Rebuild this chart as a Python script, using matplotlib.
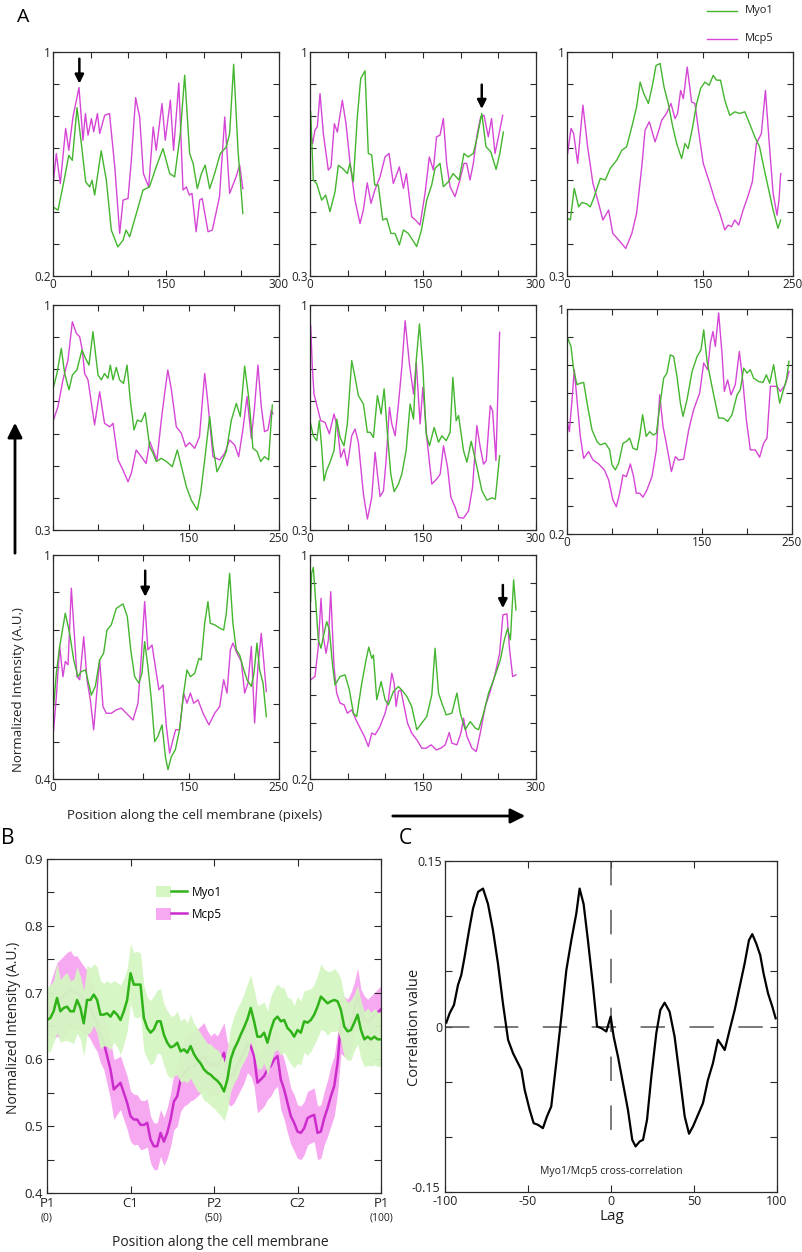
import numpy as np
import matplotlib
matplotlib.use('Agg')
import matplotlib.pyplot as plt
from matplotlib.lines import Line2D
from matplotlib.patches import Patch, FancyArrowPatch
from matplotlib.legend_handler import HandlerTuple
from matplotlib.transforms import ScaledTranslation

plt.rcParams['font.family'] = ['Open Sans', 'DejaVu Sans']

# ---------------- Panel A data: (position in pixels, normalized intensity) ----------------
p1_myo = [(0,0.447),(6.6,0.435),(13,0.518),(21,0.631),(25.6,0.613),(31.9,0.801),(37.6,0.673),(43.4,0.536),
          (48.7,0.518),(51.8,0.542),(55.3,0.489),(64,0.647),(70.8,0.542),(77.4,0.364),(86,0.304),(93,0.328),
          (97,0.364),(101.8,0.340),(110.6,0.423),(119.5,0.507),(128,0.518),(137,0.590),(146,0.655),(154.9,0.566),
          (161.5,0.554),(169,0.709),(174.8,0.917),(181.4,0.637),(186,0.602),(191.6,0.512),(197,0.566),(202,0.596),
          (208,0.512),(214.6,0.566),(222,0.637),(230,0.661),(234.5,0.709),(239.8,0.956),(245.6,0.649),(252,0.423)]
p1_mcp = [(0,0.524),(4.4,0.637),(9.7,0.530),(16.8,0.727),(21,0.649),(26.5,0.768),(34.5,0.873),(39.8,0.685),
          (43,0.78),(46.5,0.703),(51,0.762),(54,0.715),(59,0.78),(62,0.709),(68.6,0.774),(75,0.78),(82,0.59),
          (88.5,0.352),(93,0.471),(99.6,0.477),(104,0.614),(109.7,0.837),(115,0.768),(120,0.566),(127,0.518),
          (133,0.732),(137,0.649),(144.7,0.816),(149,0.685),(155.8,0.828),(160,0.649),(167,0.889),(172.6,0.507),
          (177,0.518),(181,0.489),(184.5,0.495),(190,0.358),(194.7,0.471),(198,0.477),(205.8,0.358),(211.5,0.364),
          (221,0.483),(228,0.768),(234.5,0.495),(243,0.554),(247.8,0.596),(252,0.512)]

p2_myo = [(0.9,0.813),(4.4,0.600),(8.8,0.589),(15.5,0.537),(20.8,0.553),(26.5,0.501),(33.2,0.563),(37.6,0.646),
          (43.4,0.636),(49.6,0.620),(53,0.652),(57.5,0.594),(62.8,0.797),(67.3,0.917),(73,0.941),(77.4,0.683),
          (81.9,0.678),(86,0.584),(90.7,0.584),(96.5,0.475),(101.8,0.480),(107.5,0.433),(112.8,0.433),(118.6,0.397),
          (124,0.444),(130.5,0.433),(136.3,0.412),(141.6,0.392),(148,0.444),(154.9,0.537),(161.5,0.584),(166,0.636),
          (172.6,0.652),(177,0.579),(183.6,0.594),(190,0.620),(197.8,0.600),(204.4,0.683),(210,0.672),(216.8,0.683),
          (222,0.735),(228,0.808),(233.6,0.704),(240,0.688),(247,0.633),(252,0.683),(256.7,0.750)]
p2_mcp = [(0.9,0.745),(3.5,0.714),(6.6,0.756),(9.7,0.766),(13.3,0.870),(17.7,0.745),(24.3,0.631),(27.9,0.641),
          (32.3,0.776),(36.3,0.750),(42.9,0.849),(47.8,0.776),(53,0.657),(59.7,0.537),(66.4,0.464),(70.8,0.506),
          (76,0.591),(81,0.527),(86,0.568),(93,0.610),(99.6,0.672),(104.9,0.683),(110.6,0.589),(118.6,0.641),
          (124,0.574),(128,0.620),(135,0.485),(140,0.475),(146,0.459),(152.7,0.558),(158.4,0.672),(163.7,0.631),
          (168,0.735),(172.6,0.740),(177,0.792),(181.4,0.652),(185.9,0.579),(192.5,0.548),(199,0.600),(204.4,0.652),
          (208,0.652),(212.4,0.600),(216.8,0.652),(222,0.745),(226.6,0.797),(231,0.802),(236.7,0.735),(241,0.792),
          (245.6,0.683),(251,0.745),(255.8,0.802)]

p3_myo = [(0.7,0.480),(3.7,0.475),(8,0.574),(12.9,0.516),(16.5,0.530),(22,0.525),(25.7,0.516),(29.4,0.542),
          (36.8,0.605),(42.3,0.600),(47.8,0.636),(55,0.662),(60.7,0.693),(66,0.704),(71.7,0.766),(77,0.828),
          (80.9,0.906),(85,0.870),(90,0.839),(94.5,0.896),(98.5,0.958),(103,0.964),(107.3,0.891),(112,0.839),
          (117,0.766),(121.3,0.714),(126.8,0.667),(130.5,0.714),(134,0.698),(139,0.766),(143.4,0.839),(147.8,0.886),
          (152.5,0.906),(157.3,0.896),(161.7,0.927),(165.4,0.912),(169.8,0.912),(174.6,0.849),(180,0.802),
          (185.6,0.813),(191,0.808),(196.7,0.813),(202,0.776),(207.7,0.735),(213,0.704),(217.6,0.641),(222.4,0.579),
          (228,0.506),(233.4,0.449),(236.4,0.475)]
p3_mcp = [(0.7,0.683),(4.4,0.761),(7.4,0.745),(11.8,0.652),(17.6,0.834),(22.8,0.704),(28.7,0.589),(34,0.537),
          (39.7,0.475),(46,0.506),(50.7,0.433),(58.8,0.407),(65,0.386),(71.7,0.433),(77,0.496),(82.7,0.641),
          (86.4,0.756),(91,0.782),(93.7,0.756),(97.4,0.719),(101,0.750),(104.8,0.787),(110,0.808),(115,0.839),
          (119.5,0.792),(122.4,0.808),(125.7,0.880),(128.7,0.854),(133,0.953),(137.8,0.844),(141.5,0.839),
          (147,0.724),(150.7,0.652),(158,0.589),(163.6,0.537),(169,0.496),(174.6,0.444),(178.3,0.459),(182,0.454),
          (185.6,0.475),(190,0.459),(194.8,0.506),(200,0.548),(205,0.594),(209.5,0.714),(215,0.745),(219.5,0.880),
          (223.5,0.724),(228,0.558),(232.3,0.490),(234.5,0.537),(236.4,0.620)]

p4_myo = [(0.7,0.746),(4.4,0.787),(9.2,0.865),(12.9,0.787),(17.7,0.736),(21.4,0.782),(26.5,0.798),(32,0.860),
          (36,0.834),(39.8,0.813),(44.2,0.917),(49.8,0.782),(53.5,0.767),(57,0.787),(60.8,0.772),(63.4,0.813),
          (66.4,0.767),(70,0.806),(73.7,0.767),(78,0.756),(81.9,0.813),(85.5,0.704),(89.6,0.611),(93.3,0.642),
          (97.7,0.637),(102,0.665),(107,0.559),(110.6,0.539),(114.3,0.513),(119.8,0.523),(125.4,0.513),(132,0.497),
          (137.5,0.549),(143,0.487),(147.5,0.435),(153,0.393),(159.6,0.362),(163.3,0.414),(167.8,0.518),
          (173.3,0.653),(177,0.559),(181.4,0.481),(186,0.507),(191.7,0.544),(197.3,0.642),(202.8,0.694),
          (207.2,0.653),(212,0.810),(216.8,0.704),(221.2,0.554),(225.8,0.544),(229.7,0.513),(234,0.528),
          (238.5,0.518),(242.6,0.689)]
p4_mcp = [(0.7,0.644),(5.5,0.684),(11,0.767),(16.6,0.829),(21.4,0.948),(25.8,0.912),(29.5,0.901),(32.4,0.860),
          (35,0.787),(38.7,0.767),(46,0.627),(51.6,0.730),(57,0.632),(62.7,0.621),(66.4,0.632),(72,0.518),
          (77.4,0.487),(83,0.450),(86.6,0.476),(92,0.549),(97.7,0.528),(103,0.507),(107,0.575),(110.6,0.549),
          (115,0.518),(119.8,0.642),(123.5,0.725),(127,0.798),(131,0.736),(136.4,0.621),(142,0.601),(146.7,0.559),
          (151,0.572),(156.7,0.554),(162,0.590),(167.8,0.787),(171.4,0.694),(177,0.528),(184.4,0.518),(190,0.539),
          (195.4,0.580),(201,0.564),(205.4,0.528),(210,0.611),(214.6,0.715),(219.4,0.585),(223,0.684),(226.7,0.813),
          (230.4,0.684),(234,0.606),(237.8,0.611),(241.5,0.673),(243.3,0.661)]

p5_myo = [(0.9,0.630),(4.4,0.593),(8.9,0.578),(12.4,0.640),(15.5,0.557),(18.6,0.453),(22,0.485),(26.6,0.511),
          (31.9,0.547),(35.4,0.645),(39.9,0.588),(45.2,0.562),(49.6,0.630),(55.4,0.827),(59.8,0.775),(64.2,0.718),
          (70.9,0.692),(76.2,0.604),(79.8,0.604),(84.2,0.588),(89.5,0.718),(94.4,0.661),(98.4,0.739),(102.8,0.599),
          (107.2,0.474),(111.7,0.419),(117.4,0.443),(121.9,0.474),(127.6,0.547),(132.9,0.692),(137.4,0.645),
          (141,0.827),(145.3,0.941),(149.8,0.806),(154.2,0.599),(158.6,0.562),(164.8,0.619),(170.6,0.573),
          (175,0.593),(180.8,0.578),(186,0.604),(189.6,0.775),(194,0.640),(197.2,0.656),(203.8,0.547),(208.3,0.511),
          (214,0.576),(220.7,0.505),(228.2,0.422),(234.8,0.393),(241.5,0.400),(246,0.396),(251.7,0.531)]
p5_mcp = [(0.9,0.936),(3.1,0.806),(5.3,0.723),(9.7,0.682),(14.2,0.640),(20,0.635),(25.7,0.599),(31.9,0.661),
          (36.3,0.619),(40.8,0.526),(45.2,0.552),(49.6,0.500),(55.4,0.593),(59.8,0.614),(64.2,0.573),(70.9,0.412),
          (76.2,0.334),(82,0.402),(86.4,0.542),(89.5,0.474),(93,0.404),(97.5,0.422),(101,0.516),(105.5,0.682),
          (108.6,0.630),(113,0.593),(117.4,0.692),(121.9,0.806),(126.3,0.951),(132,0.816),(137.4,0.723),(141,0.822),
          (146.2,0.630),(149.8,0.744),(155,0.588),(161.7,0.443),(168.4,0.459),(172.8,0.474),(177.2,0.562),
          (182.6,0.495),(187,0.402),(192.7,0.371),(197.2,0.339),(203.8,0.337),(210.5,0.360),(215.8,0.433),
          (221.5,0.625),(226,0.557),(230.4,0.505),(234,0.516),(239.3,0.687),(242.4,0.671),(246.8,0.516),(251.7,0.915)]

p6_myo = [(0.7,0.897),(4.4,0.867),(7.4,0.784),(11.1,0.731),(14.8,0.736),(18.5,0.739),(23,0.653),(27.8,0.570),
          (33.3,0.529),(37,0.517),(42.6,0.523),(47.4,0.499),(50,0.446),(53.7,0.428),(57.4,0.452),(62.2,0.523),
          (66,0.529),(69.6,0.541),(73.3,0.505),(77.8,0.499),(80.7,0.547),(84,0.624),(88,0.547),(91.9,0.564),
          (95.6,0.552),(99.3,0.558),(103,0.653),(107.4,0.754),(111,0.772),(114.8,0.837),(118.5,0.831),(122.2,0.760),
          (126,0.665),(128.9,0.618),(133.3,0.677),(139,0.778),(144.5,0.831),(148.9,0.855),(151.9,0.926),
          (155.6,0.814),(160,0.742),(163.7,0.683),(168.5,0.612),(174,0.612),(178.5,0.600),(183.3,0.624),
          (189,0.695),(192.6,0.713),(196.3,0.790),(200,0.772),(203.7,0.784),(207.4,0.754),(213,0.742),
          (217.8,0.739),(221.5,0.766),(225.2,0.736),(229.6,0.802),(233.3,0.725),(236.3,0.665),(240,0.707),
          (243.7,0.748),(246.7,0.814)]
p6_mcp = [(0.7,0.594),(2.6,0.564),(5.6,0.677),(8.1,0.784),(11.1,0.677),(14.8,0.547),(18.5,0.469),(24,0.493),
          (28.9,0.463),(35.2,0.449),(41.5,0.428),(46.3,0.392),(51,0.321),(54.8,0.297),(58.5,0.345),(62.2,0.410),
          (66,0.404),(70.4,0.449),(74,0.404),(77,0.345),(80.7,0.345),(84.4,0.331),(88.9,0.357),(94.4,0.404),
          (99.3,0.499),(103,0.695),(106.7,0.582),(111,0.511),(116,0.422),(120.4,0.475),(124,0.463),(129.6,0.466),
          (135.2,0.570),(140.7,0.642),(147.4,0.701),(151.9,0.808),(156.3,0.784),(159.3,0.879),(162.2,0.920),
          (164.8,0.867),(168.5,0.986),(172.2,0.843),(174.8,0.707),(178.5,0.748),(182.2,0.695),(187,0.731),
          (191.5,0.849),(195.6,0.736),(199.3,0.606),(203.7,0.499),(209.3,0.499),(214,0.473),(218.5,0.523),
          (222.2,0.541),(226,0.725),(229.6,0.725),(233.3,0.725),(237,0.707),(242.6,0.731),(246.7,0.778)]

p7_myo = [(0.7,0.594),(3.7,0.683),(7.4,0.755),(13.6,0.844),(18.4,0.790),(22.9,0.719),(27.6,0.674),(31.3,0.688),
          (36,0.692),(42.4,0.625),(46.8,0.648),(51.6,0.719),(56,0.737),(59.7,0.799),(64.5,0.813),(70,0.857),
          (77.4,0.869),(82.2,0.835),(86,0.746),(90.3,0.674),(95,0.657),(98.4,0.683),(101.4,0.768),(105,0.701),
          (108.8,0.612),(112.5,0.500),(116,0.514),(120.6,0.545),(124.3,0.460),(127.2,0.425),(130.9,0.460),
          (135.3,0.478),(140,0.532),(144.5,0.630),(148.2,0.692),(152,0.674),(156.7,0.683),(161.5,0.723),
          (164,0.719),(167.8,0.817),(171.4,0.875),(174,0.817),(178.8,0.813),(184.4,0.804),(188.8,0.799),
          (191.7,0.844),(195.4,0.951),(199,0.817),(202.8,0.746),(206.5,0.732),(210,0.701),(214.6,0.666),
          (219.4,0.648),(222.3,0.683),(225.6,0.764),(228.6,0.692),(232.3,0.657),(236,0.567)]
p7_mcp = [(0.7,0.532),(3.7,0.621),(7.4,0.755),(11,0.674),(13.6,0.715),(16.6,0.706),(20.3,0.911),(24,0.773),
          (26.5,0.674),(29.5,0.666),(34,0.781),(37.6,0.666),(41.3,0.612),(45,0.532),(48.7,0.639),(51.6,0.719),
          (55.3,0.594),(59,0.576),(64.5,0.576),(70,0.585),(75.6,0.590),(81.1,0.576),(88.5,0.558),(94,0.603),
          (97.7,0.728),(101.4,0.875),(105,0.746),(109.5,0.759),(113.2,0.701),(117.2,0.639),(121.7,0.652),
          (125.4,0.541),(129,0.469),(132.7,0.505),(135.7,0.532),(140,0.532),(144.5,0.630),(148.2,0.603),
          (152,0.630),(155.6,0.603),(160.4,0.612),(166,0.576),(172.5,0.545),(178.8,0.576),(184.4,0.594),
          (188.8,0.666),(192.5,0.630),(196.2,0.746),(199,0.764),(203.5,0.737),(208.3,0.715),(212,0.630),
          (215.7,0.657),(219.4,0.755),(223,0.550),(226.7,0.701),(230.4,0.790),(233,0.719),(236,0.634)]

p8_myo = [(0.9,0.834),(2.2,0.935),(4.4,0.956),(8,0.816),(11,0.697),(14.6,0.667),(17.7,0.709),(22.2,0.762),
          (25.7,0.733),(30.1,0.602),(33.2,0.536),(39.9,0.566),(46.5,0.572),(52.3,0.518),(57.6,0.435),(62,0.423),
          (68.7,0.542),(74.4,0.625),(78,0.671),(82,0.631),(84.2,0.643),(88.6,0.483),(94.4,0.548),(99.7,0.483),
          (104,0.465),(110.8,0.513),(117.4,0.530),(121.9,0.518),(128.5,0.495),(135,0.459),(141.8,0.376),
          (148.4,0.400),(155,0.423),(161.7,0.501),(166,0.667),(170.6,0.507),(175,0.471),(180.8,0.429),
          (188.3,0.435),(195,0.507),(199.4,0.435),(206,0.376),(212.7,0.405),(219.3,0.382),(223.8,0.376),
          (230.4,0.435),(237,0.507),(243.7,0.554),(252.6,0.625),(258,0.697),(262.3,0.738),(266,0.697),
          (270.3,0.911),(273.4,0.804)]
p8_mcp = [(0.9,0.554),(6.6,0.566),(11,0.673),(14.6,0.845),(17.7,0.709),(21.3,0.649),(24.4,0.697),(27.5,0.869),
          (31.9,0.602),(35.4,0.507),(39.9,0.471),(45.2,0.465),(49.6,0.435),(55.4,0.447),(61.1,0.411),(66.5,0.382),
          (72.2,0.352),(77.5,0.316),(82,0.364),(86.4,0.358),(93,0.388),(99.7,0.435),(104,0.483),(108.6,0.578),
          (111.7,0.542),(114.3,0.459),(117.4,0.513),(120.5,0.518),(125,0.459),(129.4,0.400),(135,0.364),
          (141.8,0.340),(148.4,0.310),(154.2,0.310),(160.8,0.322),(167.5,0.304),(173.7,0.310),(179.5,0.322),
          (184.8,0.366),(188.3,0.328),(195,0.322),(200.3,0.364),(203.8,0.417),(208.3,0.352),(215,0.310),
          (220.7,0.298),(226,0.364),(232.6,0.459),(239.3,0.513),(246,0.578),(251.7,0.649),(256.1,0.786),
          (261.4,0.790),(265,0.661),(269,0.566),(273.4,0.572)]

panel_myo = [p1_myo, p2_myo, p3_myo, p4_myo, p5_myo, p6_myo, p7_myo, p8_myo]
panel_mcp = [p1_mcp, p2_mcp, p3_mcp, p4_mcp, p5_mcp, p6_mcp, p7_mcp, p8_mcp]
panel_xmax = [300, 300, 250, 250, 300, 250, 250, 300]
panel_ymin = [0.2, 0.3, 0.3, 0.3, 0.3, 0.2, 0.4, 0.2]
panel_ydiv = [7, 7, 7, 7, 7, 8, 6, 8]
panel_xlabels = [[0, 150, 300], [0, 150, 300], [0, 150, 250], [150, 250],
                 [0, 150, 300], [0, 150, 250], [0, 150, 250], [0, 150, 300]]
# arrows: panel index -> (x position, arrow tip, arrow tail)
panel_arrows = {0: (35, 0.887, 0.976), 1: (228, 0.822, 0.898), 6: (102, 0.888, 0.958), 7: (256, 0.810, 0.893)}

# ---------------- Panel B data ----------------
b_pos = np.arange(101)
myo_mean = [0.659, 0.662, 0.672, 0.692, 0.672, 0.677, 0.679, 0.672, 0.672, 0.689,
            0.677, 0.654, 0.689, 0.689, 0.697, 0.689, 0.667, 0.667, 0.669, 0.664,
            0.672, 0.667, 0.659, 0.672, 0.689, 0.729, 0.712, 0.712, 0.712, 0.662,
            0.647, 0.640, 0.645, 0.657, 0.657, 0.637, 0.625, 0.618, 0.620, 0.625,
            0.612, 0.615, 0.610, 0.620, 0.608, 0.600, 0.594, 0.585, 0.580, 0.577,
            0.572, 0.568, 0.562, 0.552, 0.570, 0.600, 0.615, 0.625, 0.637, 0.648,
            0.660, 0.677, 0.657, 0.634, 0.634, 0.640, 0.625, 0.644, 0.659, 0.664,
            0.657, 0.659, 0.647, 0.642, 0.634, 0.644, 0.640, 0.657, 0.655, 0.659,
            0.667, 0.679, 0.694, 0.689, 0.684, 0.687, 0.689, 0.687, 0.674, 0.649,
            0.642, 0.644, 0.655, 0.667, 0.644, 0.630, 0.634, 0.630, 0.634, 0.630, 0.630]
myo_err = [0.048, 0.050, 0.046, 0.052, 0.047, 0.049, 0.051, 0.046, 0.048, 0.050,
           0.047, 0.049, 0.052, 0.048, 0.046, 0.050, 0.051, 0.047, 0.049, 0.050,
           0.046, 0.048, 0.052, 0.049, 0.047, 0.045, 0.048, 0.050, 0.047, 0.049,
           0.046, 0.048, 0.050, 0.047, 0.049, 0.046, 0.048, 0.047, 0.045, 0.048,
           0.046, 0.047, 0.045, 0.048, 0.046, 0.047, 0.045, 0.046, 0.044, 0.046,
           0.045, 0.047, 0.046, 0.044, 0.046, 0.048, 0.050, 0.052, 0.049, 0.051,
           0.053, 0.050, 0.048, 0.047, 0.049, 0.046, 0.048, 0.050, 0.047, 0.049,
           0.051, 0.048, 0.046, 0.049, 0.047, 0.050, 0.048, 0.046, 0.049, 0.047,
           0.045, 0.047, 0.049, 0.046, 0.048, 0.045, 0.047, 0.044, 0.046, 0.045,
           0.043, 0.045, 0.042, 0.044, 0.043, 0.041, 0.043, 0.040, 0.042, 0.041, 0.040]
mcp_mean = [0.667, 0.675, 0.680, 0.690, 0.690, 0.695, 0.700, 0.705, 0.700, 0.700,
            0.695, 0.690, 0.685, 0.675, 0.665, 0.654, 0.635, 0.625, 0.605, 0.585,
            0.555, 0.560, 0.565, 0.550, 0.535, 0.515, 0.510, 0.510, 0.502, 0.502,
            0.505, 0.480, 0.470, 0.470, 0.490, 0.477, 0.490, 0.510, 0.537, 0.545,
            0.570, 0.580, 0.585, 0.590, 0.590, 0.595, 0.600, 0.605, 0.595, 0.590,
            0.595, 0.590, 0.600, 0.610, 0.580, 0.575, 0.580, 0.590, 0.600, 0.610,
            0.625, 0.620, 0.605, 0.565, 0.570, 0.575, 0.585, 0.590, 0.600, 0.605,
            0.570, 0.555, 0.535, 0.515, 0.505, 0.492, 0.490, 0.497, 0.512, 0.515,
            0.517, 0.490, 0.492, 0.512, 0.527, 0.545, 0.560, 0.595, 0.654, 0.649,
            0.645, 0.655, 0.675, 0.697, 0.670, 0.660, 0.655, 0.660, 0.665, 0.670, 0.675]
mcp_err = [0.030, 0.040, 0.050, 0.055, 0.060, 0.060, 0.060, 0.058, 0.055, 0.055,
           0.052, 0.050, 0.048, 0.045, 0.045, 0.042, 0.040, 0.040, 0.042, 0.045,
           0.045, 0.042, 0.040, 0.040, 0.040, 0.038, 0.038, 0.037, 0.037, 0.036,
           0.036, 0.035, 0.035, 0.035, 0.035, 0.036, 0.038, 0.040, 0.042, 0.045,
           0.048, 0.050, 0.052, 0.052, 0.050, 0.050, 0.050, 0.050, 0.048, 0.045,
           0.045, 0.045, 0.045, 0.045, 0.045, 0.045, 0.045, 0.045, 0.045, 0.045,
           0.045, 0.045, 0.045, 0.045, 0.045, 0.045, 0.045, 0.045, 0.045, 0.045,
           0.045, 0.045, 0.045, 0.042, 0.042, 0.040, 0.040, 0.040, 0.040, 0.040,
           0.040, 0.040, 0.040, 0.040, 0.042, 0.045, 0.045, 0.045, 0.045, 0.045,
           0.045, 0.045, 0.040, 0.040, 0.035, 0.035, 0.035, 0.035, 0.035, 0.035, 0.035]
b_tick_pos = [0, 25, 50, 75, 100]
b_tick_labels = ['P1', 'C1', 'P2', 'C2', 'P1']
b_tick_sub = ['(0)', '', '(50)', '', '(100)']

# ---------------- Panel C data ----------------
c_curve = [(-99.2,0.0035),(-97.2,0.012),(-94.6,0.0195),(-92.2,0.0375),(-90.2,0.0466),(-88.2,0.063),
           (-85.5,0.0873),(-83.1,0.107),(-80.1,0.122),(-77.1,0.125),(-74.1,0.111),(-71.1,0.0873),
           (-68.1,0.0571),(-65.1,0.0210),(-62,-0.0121),(-59,-0.0243),(-56,-0.0333),(-54,-0.0393),
           (-52,-0.0574),(-49,-0.0755),(-46.6,-0.0876),(-44,-0.0891),(-41,-0.0921),(-38.6,-0.0816),
           (-36,-0.0725),(-33,-0.0333),(-29.9,0.0090),(-26.9,0.0511),(-23.9,0.0782),(-20.9,0.1024),
           (-18.9,0.125),(-16.5,0.111),(-13.9,0.0782),(-10.8,0.036),(-8.4,0.0),(-5.8,-0.0015),
           (-2.8,-0.0045),(-0.2,0.009),(1.6,-0.0091),(4.2,-0.0273),(7.2,-0.0514),(10.2,-0.0755),
           (12.8,-0.1027),(14.8,-0.1087),(17.3,-0.1042),(19.3,-0.1027),(21.7,-0.0846),(24.3,-0.0454),
           (27.3,-0.0060),(29.7,0.0149),(32.3,0.0216),(35.3,0.0134),(38.3,-0.0091),(41.4,-0.0454),
           (44.4,-0.0816),(47,-0.0972),(49.4,-0.0906),(52.4,-0.0800),(55.4,-0.0695),(58.4,-0.0484),
           (61.4,-0.0333),(64.4,-0.0121),(66.5,-0.0166),(68.5,-0.0213),(71.5,-0.0030),(74.5,0.0149),
           (77.5,0.0360),(80.5,0.0571),(83.1,0.0782),(85.1,0.0837),(87.5,0.0752),(89.9,0.0647),
           (91.9,0.0481),(94.6,0.0300),(97.2,0.0179),(99.2,0.0074)]

# ---------------- Figure ----------------
W, H = 802, 1252
fig = plt.figure(figsize=(W / 100, H / 100), dpi=100)

GREEN = '#43b52e'
MAGENTA = '#d646d6'
SPINE = '#2a2a2a'
TXT = '#222222'


def px_axes(l, t, r, b):
    return fig.add_axes([l / W, 1 - b / H, (r - l) / W, (b - t) / H])


def box_style(ax, lw=0.9):
    for s in ax.spines.values():
        s.set_color(SPINE)
        s.set_linewidth(lw)
        s.set_zorder(6)


rects = [(53, 52, 279, 276), (310, 52, 536, 276), (567, 52, 793, 276),
         (53, 305, 279, 530), (310, 305, 536, 530), (567, 309, 792, 534),
         (53, 555, 279, 779), (310, 555, 536, 779)]

for i, rect in enumerate(rects):
    ax = px_axes(*rect)
    mx, my = zip(*panel_mcp[i])
    gx, gy = zip(*panel_myo[i])
    ax.plot(mx, my, color=MAGENTA, lw=1.0)
    ax.plot(gx, gy, color=GREEN, lw=1.0)
    xmax, ymin = panel_xmax[i], panel_ymin[i]
    ax.set_xlim(0, xmax)
    ax.set_ylim(ymin, 1)
    xt = np.arange(0, xmax + 1, 50)
    ax.set_xticks(xt)
    ax.set_xticklabels([str(t) if t in panel_xlabels[i] else '' for t in xt])
    yt = np.linspace(ymin, 1, panel_ydiv[i] + 1)
    ax.set_yticks(yt)
    ax.set_yticklabels([f'{ymin:g}'] + [''] * (len(yt) - 2) + ['1'])
    ax.tick_params(direction='in', top=True, right=True, length=4, width=0.8,
                   labelsize=8.5, pad=1.5, colors=SPINE, labelcolor=TXT)
    box_style(ax)
    if i in panel_arrows:
        ax_x, tip, tail = panel_arrows[i]
        ax.annotate('', xy=(ax_x, tip), xytext=(ax_x, tail),
                    arrowprops=dict(arrowstyle='-|>', color='black', lw=1.8, mutation_scale=13,
                                    shrinkA=0, shrinkB=0))

# Panel A legend
for yy, col, lab in [(11, GREEN, 'Myo1'), (39, MAGENTA, 'Mcp5')]:
    fig.add_artist(Line2D([707 / W, 737 / W], [1 - yy / H, 1 - yy / H], color=col, lw=1.0))
    fig.text(745 / W, 1 - yy / H, lab, fontsize=8, va='center', ha='left', color=TXT)

# Big axis arrows and labels of panel A
fig.add_artist(FancyArrowPatch((15 / W, 1 - 556 / H), (15 / W, 1 - 420 / H), transform=fig.transFigure,
                               arrowstyle='-|>', mutation_scale=22, lw=2.0, color='black'))
fig.add_artist(FancyArrowPatch((390 / W, 1 - 816 / H), (528 / W, 1 - 816 / H), transform=fig.transFigure,
                               arrowstyle='-|>', mutation_scale=22, lw=2.0, color='black'))
fig.text(19 / W, 1 - 690 / H, 'Normalized Intensity (A.U.)', rotation=90, fontsize=9.5,
         ha='center', va='center', color=TXT)
fig.text(195 / W, 1 - 815 / H, 'Position along the cell membrane (pixels)', fontsize=9.5,
         ha='center', va='center', color=TXT)

# Panel letters
fig.text(23 / W, 1 - 17 / H, 'A', fontsize=14, ha='center', va='center')
fig.text(8 / W, 1 - 839 / H, 'B', fontsize=15, ha='center', va='center')
fig.text(405 / W, 1 - 839 / H, 'C', fontsize=15, ha='center', va='center')

# ---------------- Panel B ----------------
axb = px_axes(47, 859, 381, 1193)
mcp_m = np.array(mcp_mean)
mcp_e = np.array(mcp_err)
myo_m = np.array(myo_mean)
myo_e = np.array(myo_err)
axb.fill_between(b_pos, mcp_m - mcp_e, mcp_m + mcp_e, color='#f6a9f1', lw=0, zorder=1)
axb.plot(b_pos, mcp_m, color='#cc2ccc', lw=1.8, zorder=2)
axb.fill_between(b_pos, myo_m - myo_e, myo_m + myo_e, color='#d5f6c2', lw=0, alpha=0.95, zorder=3)
axb.plot(b_pos, myo_m, color='#2fb318', lw=1.8, zorder=4)
axb.set_xlim(0, 100)
axb.set_ylim(0.4, 0.9)
axb.set_xticks(b_tick_pos)
axb.set_xticklabels(b_tick_labels)
ybt = np.round(np.arange(0.4, 0.901, 0.05), 2)
axb.set_yticks(ybt)
axb.set_yticklabels([f'{v:.1f}' if abs(v * 10 - round(v * 10)) < 1e-6 else '' for v in ybt])
axb.tick_params(direction='in', top=True, right=True, length=5, width=0.8, labelsize=9.5,
                pad=3, colors=SPINE, labelcolor=TXT)
box_style(axb)
for p, s in zip(b_tick_pos, b_tick_sub):
    if s:
        axb.text(p, -0.075, s, transform=axb.get_xaxis_transform(), fontsize=7.5,
                 ha='center', va='center', color=TXT)
leg_handles = [(Patch(facecolor='#d5f6c2', edgecolor='none'), Line2D([], [], color='#2fb318', lw=1.8)),
               (Patch(facecolor='#f6a9f1', edgecolor='none'), Line2D([], [], color='#cc2ccc', lw=1.8))]
leg = axb.legend(leg_handles, ['Myo1', 'Mcp5'], handler_map={tuple: HandlerTuple(ndivide=None, pad=0)},
                 loc='upper left', bbox_to_anchor=(0.325, 0.92), frameon=False, fontsize=8.5,
                 handlelength=2.7, handleheight=1.1, handletextpad=0.35, labelspacing=0.8,
                 borderaxespad=0, borderpad=0)
leg.set_zorder(7)
fig.text(14 / W, 1 - 1028 / H, 'Normalized Intensity (A.U.)', rotation=90, fontsize=10,
         ha='center', va='center', color=TXT)
fig.text(220 / W, 1 - 1242 / H, 'Position along the cell membrane', fontsize=10,
         ha='center', va='center', color=TXT)

# ---------------- Panel C ----------------
axc = px_axes(445, 861, 777, 1192)
cx, cy = zip(*c_curve)
axc.plot([-100, 100], [0, 0], color='#555555', lw=1.1, dashes=(16, 16))
axc.plot([0, 0], [0.15, -0.115], color='#555555', lw=1.1, dashes=(16, 16))
axc.plot(cx, cy, color='black', lw=1.6)
axc.set_xlim(-100, 100)
axc.set_ylim(-0.15, 0.15)
axc.set_xticks([-100, -50, 0, 50, 100])
axc.set_xticklabels(['-100', '-50', '0', '50', '100'])
yct = [-0.15, -0.1, -0.05, 0, 0.05, 0.1, 0.15]
axc.set_yticks(yct)
axc.set_yticklabels(['-0.15', '', '', '0', '', '', '0.15'])
axc.tick_params(direction='in', top=True, right=True, length=5, width=0.8, labelsize=9,
                pad=2, colors=SPINE, labelcolor=TXT)
box_style(axc)
# lift the lowest y label slightly, as in the reference, so it clears '-100'
fig.canvas.draw()
low_lab = axc.get_yticklabels()[0]
low_lab.set_transform(low_lab.get_transform() + ScaledTranslation(-0.02, 0.05, fig.dpi_scale_trans))
axc.text(0, -0.131, 'Myo1/Mcp5 cross-correlation', fontsize=7.5, ha='center', va='center', color=TXT)
fig.text(415 / W, 1 - 1027 / H, 'Correlation value', rotation=90, fontsize=10.5,
         ha='center', va='center', color=TXT)
fig.text(612 / W, 1 - 1217 / H, 'Lag', fontsize=11, ha='center', va='center', color=TXT)

fig.savefig('out.png', dpi=100)
